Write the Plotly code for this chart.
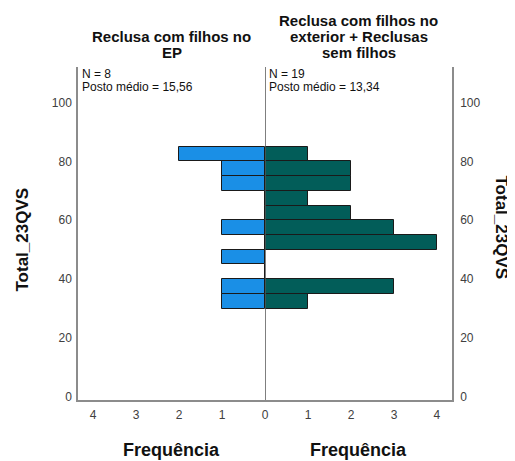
import plotly.graph_objects as go

# Data (bins of width 5 on Total_23QVS)
bin_centers = [32.5, 37.5, 42.5, 47.5, 52.5, 57.5, 62.5, 67.5, 72.5, 77.5, 82.5]
freq_left = [1, 1, 0, 1, 0, 1, 0, 0, 1, 1, 2]    # Reclusa com filhos no EP (N=8)
freq_right = [1, 3, 0, 0, 4, 3, 2, 1, 2, 2, 1]   # Reclusa com filhos no exterior + Reclusas sem filhos (N=19)
bin_width = 5

title_left = ["Reclusa com filhos no", "EP"]
title_right = ["Reclusa com filhos no", "exterior + Reclusas", "sem filhos"]
stats_left = ["N = 8", "Posto médio = 15,56"]
stats_right = ["N = 19", "Posto médio = 13,34"]
y_ticks = [0, 20, 40, 60, 80, 100]
x_ticks_left = [1, 2, 3, 4]
x_ticks_right = [0, 1, 2, 3, 4]

FONT = "Liberation Sans, Arial, sans-serif"
AXIS_COL = "#8c8c8c"
TICK_COL = "#404040"

fig = go.Figure()
fig.add_trace(go.Bar(
    x=freq_left, y=bin_centers, orientation="h", width=bin_width,
    marker=dict(color="#1a8fe6", line=dict(color="#1a1a1a", width=1)),
    xaxis="x", yaxis="y", showlegend=False,
))
fig.add_trace(go.Bar(
    x=freq_right, y=bin_centers, orientation="h", width=bin_width,
    marker=dict(color="#025d59", line=dict(color="#1a1a1a", width=1)),
    xaxis="x2", yaxis="y2", showlegend=False,
))

yrange = [-1, 112]
xmax = 4.35

# page body has an 8px margin, so the figure is sized/offset accordingly
fig.update_layout(
    width=507, height=453,
    margin=dict(l=70, r=63, t=59, b=61),
    paper_bgcolor="white", plot_bgcolor="white",
    font=dict(family=FONT, size=12, color=TICK_COL),
    bargap=0,
    xaxis=dict(domain=[0, 0.5], range=[xmax, 0], tickvals=x_ticks_left,
               showgrid=False, zeroline=False, showline=True, linecolor=AXIS_COL, linewidth=1.5,
               ticks="outside", ticklen=3, tickcolor="rgba(0,0,0,0)", anchor="y"),
    xaxis2=dict(domain=[0.5, 1], range=[0, xmax], tickvals=x_ticks_right,
                showgrid=False, zeroline=False, showline=True, linecolor=AXIS_COL, linewidth=1.5,
                ticks="outside", ticklen=3, tickcolor="rgba(0,0,0,0)", anchor="y2"),
    yaxis=dict(range=yrange, tickvals=y_ticks, showgrid=False, zeroline=False,
               showline=True, linecolor=AXIS_COL, linewidth=1.5, anchor="x",
               ticks="outside", ticklen=2, tickcolor="rgba(0,0,0,0)"),
    yaxis2=dict(range=yrange, tickvals=y_ticks, showgrid=False, zeroline=False,
                showline=True, linecolor=AXIS_COL, linewidth=1.5, anchor="x2", side="right",
                ticks="outside", ticklen=4, tickcolor="rgba(0,0,0,0)"),
)

# center divider line
fig.add_shape(type="line", xref="x2", yref="paper", x0=0, x1=0, y0=0, y1=1,
              line=dict(color="#555555", width=1.5), layer="above")

annotations = []
# panel titles
for lines, xc in [(title_left, 0.25), (title_right, 0.75)]:
    n = len(lines)
    for i, t in enumerate(lines):
        annotations.append(dict(
            text=f"<b>{t}</b>", xref="paper", yref="paper", x=xc, y=1,
            xanchor="center", yanchor="middle", yshift=15 + (n - 1 - i) * 16,
            showarrow=False, font=dict(family=FONT, size=15, color="#111111")))
# stats
for lines, xp in [(stats_left, 0.0), (stats_right, 0.5)]:
    for i, t in enumerate(lines):
        annotations.append(dict(
            text=t, xref="paper", yref="paper", x=xp, y=1, xanchor="left", yanchor="middle",
            xshift=2, yshift=-7 - i * 12.5, showarrow=False,
            font=dict(family=FONT, size=12, color="#111111")))
# x titles
for xc in [0.25, 0.75]:
    annotations.append(dict(
        text="<b>Frequência</b>", xref="paper", yref="paper", x=xc, y=0,
        xanchor="center", yanchor="middle", yshift=-50, showarrow=False,
        font=dict(family=FONT, size=18, color="#111111")))
# y titles
annotations.append(dict(
    text="<b>Total_23QVS</b>", xref="paper", yref="paper", x=0, y=0.5,
    xanchor="center", yanchor="middle", xshift=-56, yshift=-6, textangle=-90,
    showarrow=False, font=dict(family=FONT, size=17, color="#111111")))
annotations.append(dict(
    text="<b>Total_23QVS</b>", xref="paper", yref="paper", x=1, y=0.5,
    xanchor="center", yanchor="middle", xshift=49, yshift=6, textangle=90,
    showarrow=False, font=dict(family=FONT, size=17, color="#111111")))

fig.update_layout(annotations=annotations)

fig.write_html("out.html")
